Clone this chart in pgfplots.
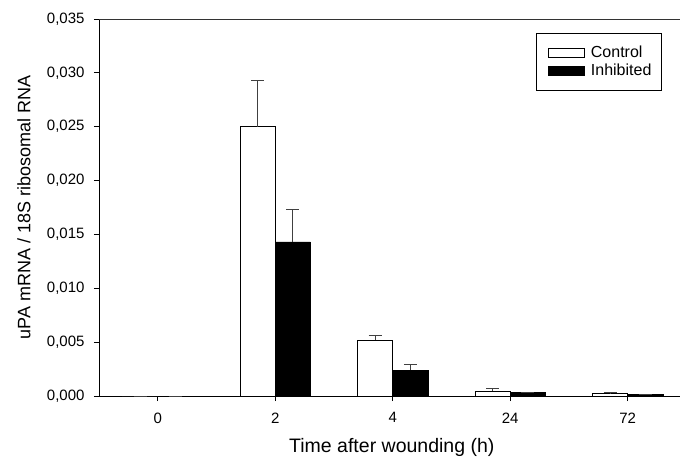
\documentclass[border=0pt]{standalone}
\usepackage{fontspec}
\setmainfont{Liberation Sans}
\usepackage{pgfplots}
\pgfplotsset{compat=1.18}
\begin{document}
\begin{tikzpicture}
\path[use as bounding box] (0,0) rectangle (680pt,459pt);
\begin{axis}[
  at={(99pt,63pt)}, anchor=south west,
  scale only axis, width=581pt, height=377pt,
  xmin=-0.5, xmax=4.445, ymin=0, ymax=0.035,
  axis x line*=bottom, axis y line*=left,
  axis line style={-, line width=0.8pt, black},
  tick align=outside, major tick length=5pt,
  tick style={line width=0.8pt, black},
  xtick={0,1,2,3,4}, xticklabels={0,2,4,24,72},
  ytick={0,0.005,0.010,0.015,0.020,0.025,0.030,0.035},
  scaled y ticks=false,
  yticklabel style={/pgf/number format/.cd, fixed, fixed zerofill, precision=3, use comma, /tikz/.cd, xshift=-6pt},
  xticklabel style={yshift=-8pt},
  /pgf/number format/assume math mode=true,
  tick label style={font=\fontsize{15}{18}\selectfont},
  xlabel={Time after wounding (h)},
  ylabel={uPA mRNA / 18S ribosomal RNA},
  xlabel style={at={(axis description cs:0.504,-0.151)}, anchor=base, inner sep=0pt, font=\fontsize{19.5}{23}\selectfont},
  ylabel style={at={(axis description cs:-0.141,0.5)}, anchor=north, inner sep=0pt, font=\fontsize{18}{21}\selectfont},
  ybar, bar width=0.3,
  legend style={at={(axis description cs:0.752,0.963)}, anchor=north west,
    draw=black, line width=0.6pt, font=\fontsize{16}{19}\selectfont,
    inner xsep=8pt, inner ysep=11pt, row sep=1pt, cells={anchor=west}},
  legend image code/.code={\path[draw=none, fill=none] (-4pt,0) -- (40.7pt,0); \draw[#1, line width=0.8pt] (0pt,-4.5pt) rectangle (36pt,4.5pt);},
  error bars/error bar style={line width=0.8pt, black!75},
  error bars/error mark options={rotate=90, mark size=6.5pt, line width=0.8pt, black!75},
  extra description/.code={\draw[line width=0.8pt, black!80] (0,1) -- (1,1);},
  clip=false,
]
\addplot[fill=white, draw=black, line width=0.8pt, bar shift=-0.15,
  error bars/.cd, y dir=plus, y explicit]
  coordinates {(0,0) +- (0,0) (1,0.0250) +- (0,0.0043) (2,0.0052) +- (0,0.0004) (3,0.00045) +- (0,0.00025) (4,0.0002) +- (0,0.0001)};
\addlegendentry{Control}
\addplot[fill=black, draw=black, line width=0.8pt, bar shift=0.15,
  error bars/.cd, y dir=plus, y explicit]
  coordinates {(0,0) +- (0,0) (1,0.0143) +- (0,0.0030) (2,0.0024) +- (0,0.0005) (3,0.0003) +- (0,0.00005) (4,0.00012) +- (0,0.00005)};
\addlegendentry{Inhibited}
\end{axis}
\end{tikzpicture}
\end{document}
